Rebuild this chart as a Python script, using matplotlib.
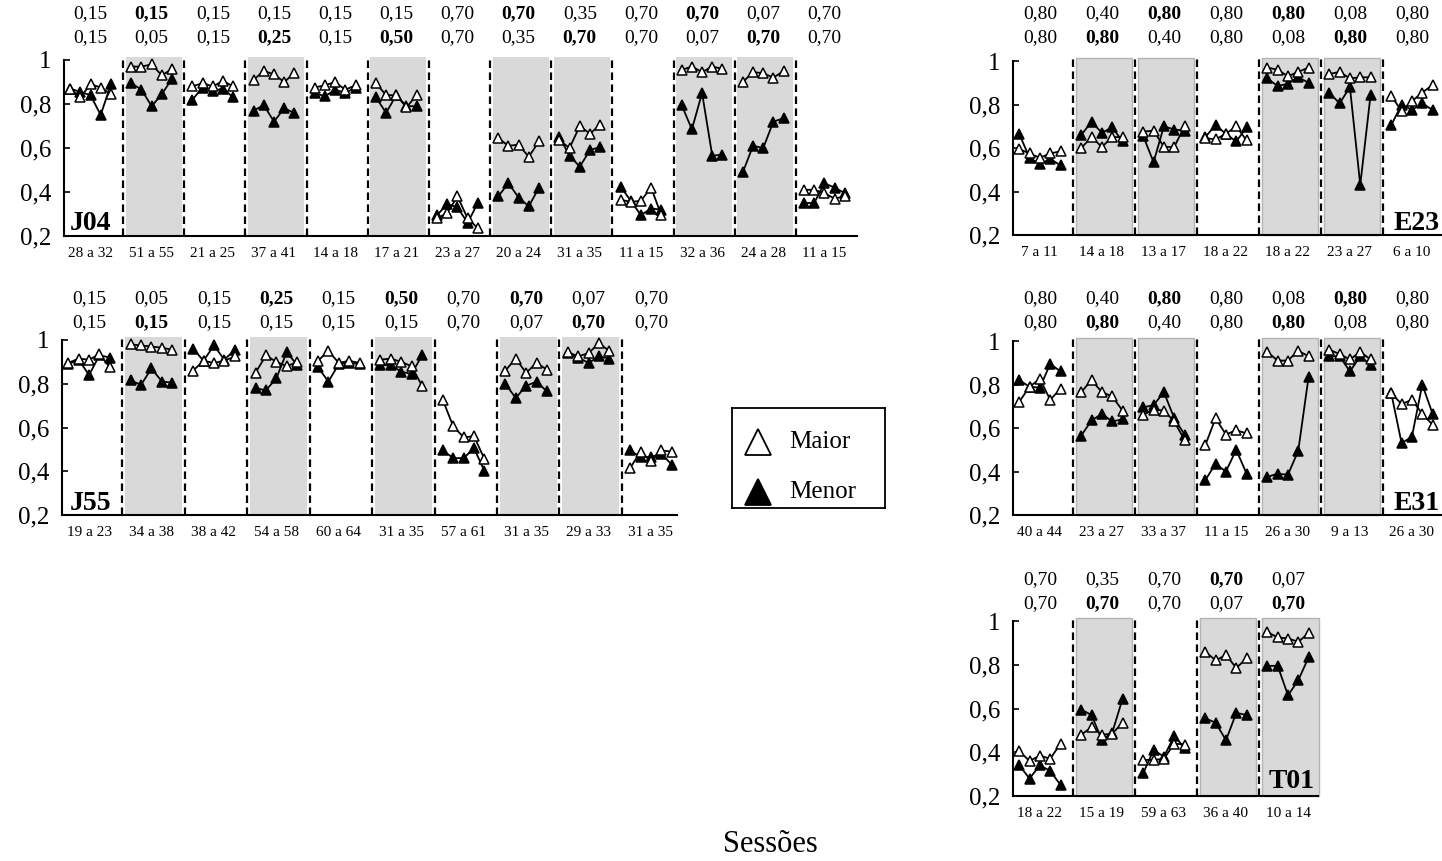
import matplotlib.pyplot as plt
from matplotlib.patches import Rectangle

plt.rcParams['font.family'] = ['Liberation Serif', 'DejaVu Serif']

W, H = 1442, 861
SHADE = '#d9d9d9'

# ---------------- J04
j04_sessions = ['28 a 32', '51 a 55', '21 a 25', '37 a 41', '14 a 18', '17 a 21', '23 a 27',
                '20 a 24', '31 a 35', '11 a 15', '32 a 36', '24 a 28', '11 a 15']
j04_top = [0.15, 0.15, 0.15, 0.15, 0.15, 0.15, 0.70, 0.70, 0.35, 0.70, 0.70, 0.07, 0.70]
j04_bottom = [0.15, 0.05, 0.15, 0.25, 0.15, 0.50, 0.70, 0.35, 0.70, 0.70, 0.07, 0.70, 0.70]
j04_maior = [[0.87, 0.83, 0.89, 0.875, 0.845], [0.97, 0.97, 0.98, 0.93, 0.96],
             [0.88, 0.895, 0.88, 0.905, 0.88], [0.91, 0.95, 0.935, 0.90, 0.94],
             [0.875, 0.885, 0.90, 0.865, 0.885], [0.895, 0.84, 0.84, 0.785, 0.84],
             [0.28, 0.305, 0.38, 0.28, 0.235], [0.645, 0.61, 0.615, 0.56, 0.63],
             [0.635, 0.60, 0.70, 0.665, 0.705], [0.365, 0.355, 0.36, 0.42, 0.295],
             [0.955, 0.97, 0.945, 0.97, 0.96], [0.90, 0.945, 0.94, 0.92, 0.95],
             [0.41, 0.41, 0.395, 0.37, 0.38]]
j04_menor = [[0.87, 0.855, 0.84, 0.75, 0.89], [0.895, 0.865, 0.79, 0.845, 0.915],
             [0.82, 0.875, 0.86, 0.87, 0.83], [0.77, 0.795, 0.72, 0.78, 0.76],
             [0.85, 0.835, 0.865, 0.85, 0.875], [0.83, 0.76, 0.84, 0.79, 0.79],
             [0.295, 0.345, 0.33, 0.26, 0.35], [0.38, 0.44, 0.375, 0.335, 0.42],
             [0.65, 0.565, 0.515, 0.59, 0.605], [0.425, 0.36, 0.295, 0.325, 0.32],
             [0.795, 0.685, 0.85, 0.565, 0.57], [0.49, 0.61, 0.60, 0.72, 0.735],
             [0.35, 0.35, 0.44, 0.42, 0.395]]

# ---------------- J55
j55_sessions = ['19 a 23', '34 a 38', '38 a 42', '54 a 58', '60 a 64', '31 a 35', '57 a 61',
                '31 a 35', '29 a 33', '31 a 35']
j55_top = [0.15, 0.05, 0.15, 0.25, 0.15, 0.50, 0.70, 0.70, 0.07, 0.70]
j55_bottom = [0.15, 0.15, 0.15, 0.15, 0.15, 0.15, 0.70, 0.07, 0.70, 0.70]
j55_maior = [[0.895, 0.915, 0.91, 0.935, 0.875], [0.98, 0.975, 0.97, 0.965, 0.955],
             [0.86, 0.905, 0.895, 0.905, 0.925], [0.85, 0.93, 0.90, 0.88, 0.90],
             [0.905, 0.95, 0.895, 0.905, 0.895], [0.91, 0.915, 0.90, 0.88, 0.79],
             [0.725, 0.605, 0.555, 0.56, 0.455], [0.86, 0.915, 0.85, 0.895, 0.865],
             [0.945, 0.925, 0.94, 0.985, 0.95], [0.415, 0.49, 0.445, 0.495, 0.49]]
j55_menor = [[0.89, 0.91, 0.84, 0.93, 0.92], [0.815, 0.795, 0.87, 0.81, 0.805],
             [0.96, 0.905, 0.975, 0.91, 0.955], [0.78, 0.77, 0.825, 0.945, 0.885],
             [0.875, 0.81, 0.89, 0.895, 0.89], [0.885, 0.885, 0.855, 0.845, 0.93],
             [0.495, 0.46, 0.46, 0.505, 0.40], [0.80, 0.735, 0.79, 0.81, 0.765],
             [0.94, 0.92, 0.895, 0.925, 0.915], [0.495, 0.465, 0.465, 0.48, 0.43]]

# ---------------- E23
e23_sessions = ['7 a 11', '14 a 18', '13 a 17', '18 a 22', '18 a 22', '23 a 27', '6 a 10']
e23_top = [0.80, 0.40, 0.80, 0.80, 0.80, 0.08, 0.80]
e23_bottom = [0.80, 0.80, 0.40, 0.80, 0.08, 0.80, 0.80]
e23_maior = [[0.595, 0.575, 0.555, 0.575, 0.585], [0.60, 0.65, 0.605, 0.65, 0.65],
             [0.675, 0.68, 0.605, 0.605, 0.70], [0.645, 0.64, 0.665, 0.70, 0.635],
             [0.97, 0.96, 0.93, 0.95, 0.97], [0.94, 0.95, 0.92, 0.925, 0.925],
             [0.84, 0.77, 0.815, 0.855, 0.89]]
e23_menor = [[0.665, 0.555, 0.525, 0.55, 0.52], [0.66, 0.72, 0.67, 0.695, 0.63],
             [0.655, 0.535, 0.70, 0.685, 0.68], [0.65, 0.705, 0.665, 0.63, 0.695],
             [0.92, 0.885, 0.895, 0.925, 0.90], [0.855, 0.805, 0.88, 0.43, 0.845],
             [0.705, 0.80, 0.775, 0.805, 0.775]]

# ---------------- E31
e31_sessions = ['40 a 44', '23 a 27', '33 a 37', '11 a 15', '26 a 30', '9 a 13', '26 a 30']
e31_top = [0.80, 0.40, 0.80, 0.80, 0.08, 0.80, 0.80]
e31_bottom = [0.80, 0.80, 0.40, 0.80, 0.80, 0.08, 0.80]
e31_maior = [[0.72, 0.79, 0.825, 0.73, 0.78], [0.765, 0.82, 0.765, 0.745, 0.68],
             [0.66, 0.685, 0.68, 0.63, 0.545], [0.52, 0.645, 0.57, 0.59, 0.575],
             [0.95, 0.91, 0.91, 0.955, 0.93], [0.96, 0.94, 0.915, 0.95, 0.915],
             [0.76, 0.71, 0.73, 0.665, 0.615]]
e31_menor = [[0.82, 0.79, 0.785, 0.895, 0.86], [0.565, 0.635, 0.665, 0.63, 0.64],
             [0.695, 0.705, 0.765, 0.645, 0.57], [0.36, 0.435, 0.40, 0.50, 0.39],
             [0.375, 0.39, 0.385, 0.495, 0.835], [0.93, 0.93, 0.86, 0.93, 0.89],
             [0.76, 0.53, 0.56, 0.80, 0.665]]

# ---------------- T01
t01_sessions = ['18 a 22', '15 a 19', '59 a 63', '36 a 40', '10 a 14']
t01_top = [0.70, 0.35, 0.70, 0.70, 0.07]
t01_bottom = [0.70, 0.70, 0.70, 0.07, 0.70]
t01_maior = [[0.405, 0.36, 0.385, 0.37, 0.44], [0.48, 0.515, 0.48, 0.485, 0.535],
             [0.365, 0.365, 0.37, 0.44, 0.435], [0.86, 0.82, 0.845, 0.785, 0.83],
             [0.95, 0.925, 0.92, 0.905, 0.945]]
t01_menor = [[0.34, 0.28, 0.34, 0.315, 0.25], [0.595, 0.57, 0.455, 0.49, 0.645],
             [0.305, 0.41, 0.38, 0.475, 0.42], [0.555, 0.535, 0.455, 0.58, 0.57],
             [0.795, 0.795, 0.66, 0.73, 0.835]]


def fmt(v):
    return f'{v:.2f}'.replace('.', ',')


def draw_panel(fig, box, xmax, rows, sessions, top, bottom, maior, menor, outline):
    left, top_px, right, bottom_px = box
    ax = fig.add_axes([left / W, 1 - bottom_px / H, (right - left) / W, (bottom_px - top_px) / H])
    ax.set_xlim(0.2, xmax)
    ax.set_ylim(0.2, 1.0)
    hpx = bottom_px - top_px

    for i in range(len(sessions)):
        x0 = 6 * i
        differs = top[i] != bottom[i]
        if differs:
            ax.add_patch(Rectangle((x0 + 0.25, 0.2), 5.5, 0.812, facecolor=SHADE,
                                   edgecolor='#b4b4b4' if outline else 'none', lw=1.0,
                                   clip_on=False, zorder=0))
        if i > 0:
            ax.plot([x0, x0], [0.2, 1.01], color='black', lw=1.6, ls=(0, (3.4, 2.0)),
                    clip_on=False, zorder=1)
        xs = [x0 + 0.8 + k for k in range(5)]
        ax.plot(xs, menor[i], '-^', color='black', mfc='black', mec='black',
                ms=7, mew=1.1, lw=1.3, zorder=3, clip_on=False)
        ax.plot(xs, maior[i], '-^', color='black', mfc='white', mec='black',
                ms=7, mew=1.1, lw=1.3, zorder=4, clip_on=False)

        # proportion labels above the panel
        big = max(top[i], bottom[i])
        for val, ypx in ((top[i], rows[0]), (bottom[i], rows[1])):
            bold = differs and val == big
            ax.text(x0 + 2.8, (bottom_px - ypx) / hpx, fmt(val), transform=ax.get_xaxis_transform(),
                    ha='center', va='center', fontsize=14,
                    fontweight='bold' if bold else 'normal', clip_on=False)

    ax.set_xticks([6 * i + 2.8 for i in range(len(sessions))])
    ax.set_xticklabels(sessions, fontsize=11)
    ax.tick_params(axis='x', length=0, pad=8)
    ax.set_yticks([0.2, 0.4, 0.6, 0.8, 1.0])
    ax.set_yticklabels(['0,2', '0,4', '0,6', '0,8', '1'], fontsize=18)
    ax.tick_params(axis='y', direction='in', length=4, width=1.2, pad=9)
    for side in ('top', 'right'):
        ax.spines[side].set_visible(False)
    for side in ('left', 'bottom'):
        ax.spines[side].set_linewidth(1.5)
    ax.patch.set_alpha(0)
    return ax


fig = plt.figure(figsize=(W / 100, H / 100), dpi=100)

draw_panel(fig, (64, 60, 857, 236), 78, (14, 38), j04_sessions, j04_top, j04_bottom,
           j04_maior, j04_menor, False)
draw_panel(fig, (62, 340, 677, 515), 59.3, (299, 323), j55_sessions, j55_top, j55_bottom,
           j55_maior, j55_menor, False)
draw_panel(fig, (1013, 61, 1445, 235), 42, (14, 38), e23_sessions, e23_top, e23_bottom,
           e23_maior, e23_menor, True)
draw_panel(fig, (1013, 341, 1445, 515), 42, (299, 323), e31_sessions, e31_top, e31_bottom,
           e31_maior, e31_menor, True)
draw_panel(fig, (1013, 621, 1318, 796), 29.7, (580, 604), t01_sessions, t01_top, t01_bottom,
           t01_maior, t01_menor, True)

# subject names
name_style = dict(fontsize=20, fontweight='bold', va='baseline')
fig.text(70 / W, 1 - 230 / H, 'J04', ha='left', **name_style)
fig.text(70 / W, 1 - 510 / H, 'J55', ha='left', **name_style)
fig.text(1440 / W, 1 - 230 / H, 'E23', ha='right', **name_style)
fig.text(1440 / W, 1 - 510 / H, 'E31', ha='right', **name_style)
fig.text(1315 / W, 1 - 788 / H, 'T01', ha='right', **name_style)

# legend box
lax = fig.add_axes([732 / W, 1 - 508 / H, 153 / W, 100 / H])
lax.set_xlim(0, 153)
lax.set_ylim(100, 0)
lax.set_xticks([])
lax.set_yticks([])
for sp in lax.spines.values():
    sp.set_linewidth(1.3)
lax.plot([26], [34], '^', ms=19, mfc='white', mec='black', mew=1.3)
lax.plot([26], [84], '^', ms=19, mfc='black', mec='black', mew=1.3)
lax.text(57, 34, 'Maior', fontsize=18, va='center', ha='left')
lax.text(57, 84, 'Menor', fontsize=18, va='center', ha='left')

fig.text(770 / W, 1 - 845 / H, 'Sessões', fontsize=22, ha='center', va='center')

fig.savefig('out.png', dpi=100)
